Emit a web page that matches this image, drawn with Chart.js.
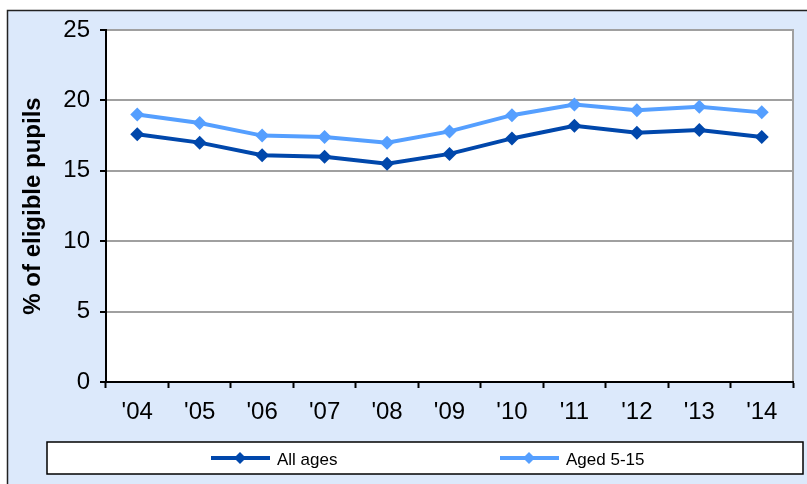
<!DOCTYPE html>
<html>
<head>
<meta charset="utf-8">
<script src="https://cdn.jsdelivr.net/npm/chart.js@4"></script>
<style>
  html, body { margin: 0; padding: 0; background: #fff; }
  #wrap { width: 807px; height: 484px; }
</style>
</head>
<body>
<div id="wrap"><canvas id="fsmChart" width="807" height="484"></canvas></div>
<script>
const years = ["'04", "'05", "'06", "'07", "'08", "'09", "'10", "'11", "'12", "'13", "'14"];
const allAges = [17.6, 17.0, 16.1, 16.0, 15.5, 16.2, 17.3, 18.2, 17.7, 17.9, 17.4];
const aged5to15 = [19.0, 18.4, 17.5, 17.4, 17.0, 17.8, 18.95, 19.7, 19.3, 19.55, 19.15];
const yTicks = [0, 5, 10, 15, 20, 25];

const darkBlue = '#0047ab';
const lightBlue = '#559fff';

// background, plot frame and legend box
const frame = {
    id: 'frame',
    beforeDraw(chart) {
        const c = chart.ctx;
        const a = chart.chartArea;
        c.save();
        c.fillStyle = '#fff';
        c.fillRect(0, 0, chart.width, chart.height);
        c.fillStyle = '#dce9fb';
        c.fillRect(7, 10, chart.width, chart.height);
        c.strokeStyle = '#222';
        c.lineWidth = 1.5;
        c.strokeRect(7.5, 10.5, chart.width + 5, chart.height + 5);
        c.fillStyle = '#fff';
        c.fillRect(a.left, a.top, a.right - a.left, a.bottom - a.top);
        c.strokeStyle = '#a0a0a0';
        c.lineWidth = 2;
        c.strokeRect(a.left, a.top, a.right - a.left, a.bottom - a.top);
        c.restore();
    },
    afterDraw(chart) {
        const c = chart.ctx;
        c.save();
        c.fillStyle = '#fff';
        c.fillRect(47, 442, 756, 32);
        c.strokeStyle = '#000';
        c.lineWidth = 1.5;
        c.strokeRect(47, 442, 756, 32);
        const starts = [211, 500];
        chart.data.datasets.forEach((ds, i) => {
            const x = starts[i];
            const y = 458;
            c.strokeStyle = ds.borderColor;
            c.lineWidth = 4;
            c.beginPath();
            c.moveTo(x, y);
            c.lineTo(x + 59, y);
            c.stroke();
            c.fillStyle = ds.borderColor;
            c.beginPath();
            c.moveTo(x + 29, y - 6);
            c.lineTo(x + 35, y);
            c.lineTo(x + 29, y + 6);
            c.lineTo(x + 23, y);
            c.closePath();
            c.fill();
            c.fillStyle = '#000';
            c.font = '17px "Liberation Sans", Arial, sans-serif';
            c.textBaseline = 'middle';
            c.fillText(ds.label, x + 66, y + 2);
        });
        c.restore();
    }
};

const ctx = document.getElementById('fsmChart').getContext('2d');
new Chart(ctx, {
    type: 'line',
    data: {
        labels: years,
        datasets: [
            {
                label: 'All ages',
                data: allAges,
                borderColor: darkBlue,
                backgroundColor: darkBlue,
                borderWidth: 4,
                pointStyle: 'rectRot',
                pointRadius: 7,
                pointBorderWidth: 0,
                tension: 0
            },
            {
                label: 'Aged 5-15',
                data: aged5to15,
                borderColor: lightBlue,
                backgroundColor: lightBlue,
                borderWidth: 4,
                pointStyle: 'rectRot',
                pointRadius: 7,
                pointBorderWidth: 0,
                tension: 0
            }
        ]
    },
    options: {
        responsive: false,
        animation: false,
        layout: { padding: { left: 0, top: 30, right: 14, bottom: 52 } },
        plugins: {
            legend: { display: false },
            tooltip: { enabled: false }
        },
        scales: {
            x: {
                offset: true,
                afterFit(scale) { scale.height = 50; },
                grid: {
                    offset: true,
                    drawOnChartArea: false,
                    tickLength: 6,
                    tickColor: '#000',
                    tickWidth: 2
                },
                border: { color: '#000', width: 2 },
                ticks: {
                    color: '#000',
                    padding: 10,
                    maxRotation: 0,
                    font: { family: '"Liberation Sans", Arial, sans-serif', size: 24 }
                }
            },
            y: {
                min: 0,
                max: 25,
                afterFit(scale) { scale.width = 106; },
                afterBuildTicks(scale) { scale.ticks = yTicks.map(v => ({ value: v })); },
                grid: {
                    color: '#a0a0a0',
                    lineWidth: 2,
                    tickLength: 6,
                    tickColor: '#000',
                    tickWidth: 2
                },
                border: { color: '#000', width: 2 },
                ticks: {
                    color: '#000',
                    padding: 10,
                    font: { family: '"Liberation Sans", Arial, sans-serif', size: 24 }
                },
                title: {
                    display: true,
                    text: '% of eligible pupils',
                    color: '#000',
                    padding: { top: 19, bottom: 0 },
                    font: { family: '"Liberation Sans", Arial, sans-serif', size: 24, weight: 'bold' }
                }
            }
        }
    },
    plugins: [frame]
});
</script>
</body>
</html>
